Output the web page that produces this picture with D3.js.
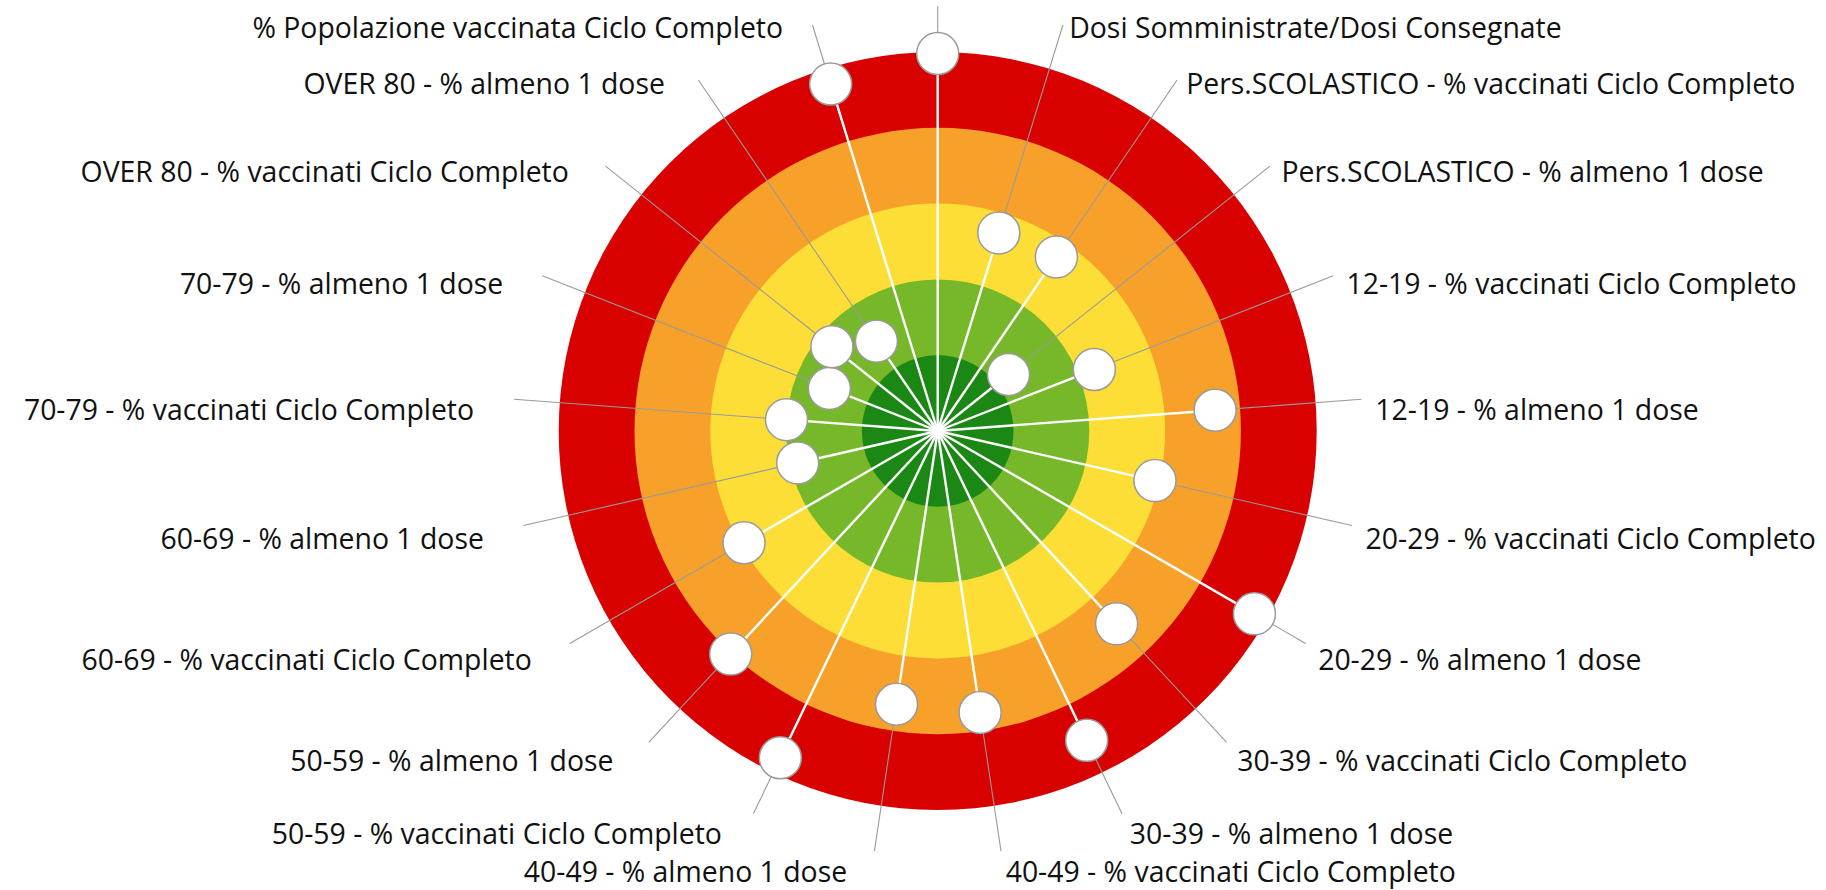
<!DOCTYPE html>
<html>
<head>
<meta charset="utf-8">
<script src="https://cdn.jsdelivr.net/npm/d3@7"></script>
<style>
  html, body { margin: 0; padding: 0; background: #ffffff; }
  svg { display: block; }
  .label { font-family: "Open Sans", "Noto Sans", sans-serif; fill: #111; }
</style>
</head>
<body>
<svg id="chart" width="1826" height="890"></svg>
<script>
// Spokes, clockwise from the top
const categories = [
  "",
  "Dosi Somministrate/Dosi Consegnate",
  "Pers.SCOLASTICO - % vaccinati Ciclo Completo",
  "Pers.SCOLASTICO - % almeno 1 dose",
  "12-19 - % vaccinati Ciclo Completo",
  "12-19 - % almeno 1 dose",
  "20-29 - % vaccinati Ciclo Completo",
  "20-29 - % almeno 1 dose",
  "30-39 - % vaccinati Ciclo Completo",
  "30-39 - % almeno 1 dose",
  "40-49 - % vaccinati Ciclo Completo",
  "40-49 - % almeno 1 dose",
  "50-59 - % vaccinati Ciclo Completo",
  "50-59 - % almeno 1 dose",
  "60-69 - % vaccinati Ciclo Completo",
  "60-69 - % almeno 1 dose",
  "70-79 - % vaccinati Ciclo Completo",
  "70-79 - % almeno 1 dose",
  "OVER 80 - % vaccinati Ciclo Completo",
  "OVER 80 - % almeno 1 dose",
  "% Popolazione vaccinata Ciclo Completo"
];

// Distance from target (0 = centre, 100 = outer edge)
const values = [
  99.6, 54.7, 55.6, 23.9, 44.4, 73.4, 58.8, 96.5, 69.4, 90.6,
  75.1, 72.9, 95.7, 80.3, 59.0, 37.9, 40.0, 30.7, 35.7, 28.7, 95.8
];

// Threshold bands, from the outside in
const bandLimits = [100, 80, 60, 40, 20];
const bandColors = ["#d90000", "#f7a12b", "#fdde36", "#77b82b", "#1b8714"];

const cx = 937.7, cy = 431;
const R = 379;
const markerR = 21;
const leaderR = 1.121 * R;

const svg = d3.select("#chart");
const g = svg.append("g").attr("transform", `translate(${cx},${cy})`);

const rScale = d3.scaleLinear().domain([0, 100]).range([0, R]);
const angle = d3.scaleLinear().domain([0, categories.length]).range([0, 2 * Math.PI]);

const px = (a, r) => r * Math.sin(a);
const py = (a, r) => -r * Math.cos(a);

// Coloured rings
g.selectAll("circle.band")
  .data(bandLimits)
  .join("circle")
  .attr("class", "band")
  .attr("r", d => rScale(d))
  .attr("fill", (d, i) => bandColors[i]);

const data = categories.map((c, i) => ({ name: c, value: values[i], a: angle(i) }));

// Spokes from the centre to each marker
g.selectAll("line.spoke")
  .data(data)
  .join("line")
  .attr("class", "spoke")
  .attr("x1", 0).attr("y1", 0)
  .attr("x2", d => px(d.a, rScale(d.value)))
  .attr("y2", d => py(d.a, rScale(d.value)))
  .attr("stroke", "#ffffff")
  .attr("stroke-width", 2.4);

// Leader lines from marker to label
g.selectAll("line.leader")
  .data(data)
  .join("line")
  .attr("class", "leader")
  .attr("x1", d => px(d.a, rScale(d.value) + markerR))
  .attr("y1", d => py(d.a, rScale(d.value) + markerR))
  .attr("x2", d => px(d.a, leaderR))
  .attr("y2", d => py(d.a, leaderR))
  .attr("stroke", "#9a9a9a")
  .attr("stroke-width", 1.1);

// Markers
g.selectAll("circle.marker")
  .data(data)
  .join("circle")
  .attr("class", "marker")
  .attr("cx", d => px(d.a, rScale(d.value)))
  .attr("cy", d => py(d.a, rScale(d.value)))
  .attr("r", markerR)
  .attr("fill", "#ffffff")
  .attr("stroke", "#9a9a9a")
  .attr("stroke-width", 1.5);

// Category labels at the end of each leader
g.selectAll("text.label")
  .data(data.filter(d => d.name !== ""))
  .join("text")
  .attr("class", "label")
  .attr("font-size", 28.4)
  .attr("dominant-baseline", "central")
  .attr("text-anchor", d => Math.sin(d.a) >= 0 ? "start" : "end")
  .attr("x", d => {
    const s = Math.sin(d.a);
    const ex = px(d.a, leaderR);
    return s >= 0 ? ex + 3 + 11 * Math.abs(s) : ex - (25 + 15 * Math.abs(s));
  })
  .attr("y", d => py(d.a, leaderR) + 10.5 - 9.3 * Math.cos(d.a))
  .text(d => d.name);
</script>
</body>
</html>
